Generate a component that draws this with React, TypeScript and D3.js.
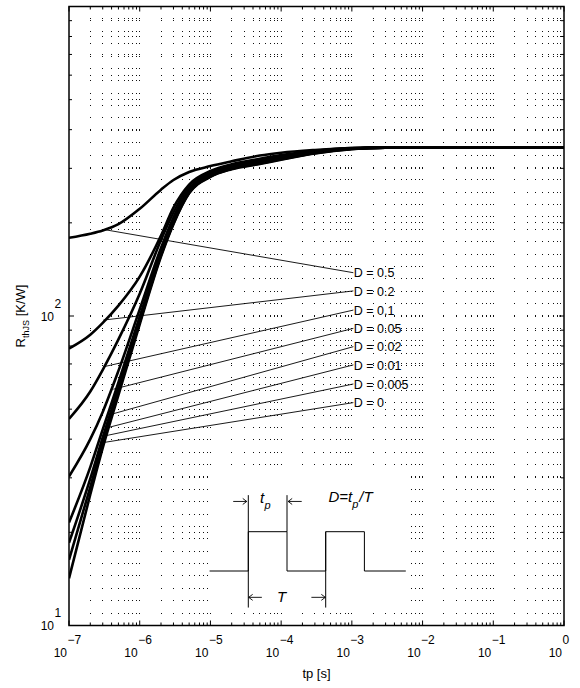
import React from 'react';
import * as d3 from 'd3';

// pulse time samples [s]
const tValues = [1e-7, 2e-7, 3e-7, 5e-7, 1e-6, 2e-6, 3e-6, 5e-6, 1e-5, 2e-5, 5e-5, 1e-4, 3e-4, 1e-3, 3e-3, 1e-2, 1e-1, 1];

// thermal impedance per duty cycle [K/W]
const zD05 = [179, 184.5, 189, 198, 222, 256, 275, 292, 305, 316, 330, 337, 344, 349, 350, 350, 350, 350];
const zD02 = [78.5, 87, 95, 108, 134, 182, 224, 266, 294, 309, 322, 331, 342, 349, 350, 350, 350, 350];
const zD01 = [46.5, 57, 67, 84, 118, 176, 216, 263, 291, 306, 319, 328.5, 340, 348, 350, 350, 350, 350];
const zD005 = [30.3, 40, 49, 66.5, 105, 166, 208, 257, 288, 303.5, 316, 326, 338.5, 348, 350, 350, 350, 350];
const zD002 = [21.5, 32.5, 43, 61, 99.5, 161, 203, 253, 285, 301, 313.5, 323.5, 337, 347, 350, 350, 350, 350];
const zD001 = [18.5, 29.8, 40.5, 58.5, 97, 158.5, 200.5, 251, 283.5, 300, 312, 322, 336.5, 347, 350, 350, 350, 350];
const zD0005 = [16.3, 28, 39, 57, 95.5, 157, 199, 250, 282.5, 299, 311, 321, 336, 346.5, 350, 350, 350, 350];
const zD0 = [14.2, 26.5, 37.5, 55.5, 94, 155.6, 198, 249, 281.5, 298, 310, 320, 335, 346, 350, 350, 350, 350];

const seriesList = [zD05, zD02, zD01, zD005, zD002, zD001, zD0005, zD0];
const labels = ['D = 0.5', 'D = 0.2', 'D = 0.1', 'D = 0.05', 'D = 0.02', 'D = 0.01', 'D = 0.005', 'D = 0'];

// leader lines: point on curve -> label
const anchorT = [3.23e-7, 3.05e-7, 3.05e-7, 4.24e-7, 3.8e-7, 3.41e-7, 3.23e-7, 3.05e-7];
const anchorV = [190, 97, 68.5, 58, 48, 43.5, 41, 39];
const labelT = 1.05e-3;
const labelV = [138, 120.5, 104.5, 91.2, 79.6, 69.5, 60.3, 52.5];

const xDecades = [-7, -6, -5, -4, -3, -2, -1, 0];
const yDecades = [1, 2, 3];
const yLabelDecades = [1, 2];

const W = 580;
const H = 688;
const left = 69;
const right = 564;
const top = 6.5;
const bottom = 625.5;
const font = '"Liberation Sans", Arial, Helvetica, sans-serif';

function logGrid(decades: number[]) {
  const out: { v: number; major: boolean }[] = [];
  decades.forEach((d, i) => {
    out.push({ v: Math.pow(10, d), major: true });
    if (i < decades.length - 1) {
      for (let m = 2; m <= 9; m++) out.push({ v: m * Math.pow(10, d), major: false });
    }
  });
  return out;
}

export default function App() {
  const x = d3.scaleLog().domain([1e-7, 1]).range([left, right]);
  const y = d3.scaleLog().domain([10, 1000]).range([bottom, top]);

  const xGrid = logGrid(xDecades);
  const yGrid = logGrid(yDecades);
  const xInner = xGrid.filter(g => g.v > 1e-7 && g.v < 1);
  const yInner = yGrid.filter(g => g.v > 10 && g.v < 1000);

  const line = d3.line<number>()
    .x((_, i) => x(tValues[i]))
    .y(d => y(d))
    .curve(d3.curveMonotoneX);

  // dotted grid: dots along the vertical lines at a regular pitch, plus rows on the log y lines
  const pitch = (bottom - top) / 50;
  const dots: [number, number][] = [];
  xInner.forEach(g => {
    const px = Math.floor(x(g.v));
    for (let k = 1; k < 50; k++) dots.push([px, Math.floor(bottom - k * pitch)]);
    yInner.forEach(h => dots.push([px, Math.floor(y(h.v))]));
  });

  // inset (duty cycle sketch), in units of tp and pulse level
  const ix = d3.scaleLinear().domain([0, 1]).range([248.3, 287]);
  const iy = d3.scaleLinear().domain([0, 1]).range([571, 531.7]);
  const pulse = d3.line<[number, number]>().x(d => ix(d[0])).y(d => iy(d[1]));
  const pulsePts: [number, number][] = [[-1, 0], [0, 0], [0, 1], [1, 1], [1, 0], [2, 0], [2, 1], [3, 1], [3, 0], [4.07, 0]];

  const arrow = (x1: number, x2: number, yy: number, key: string) => {
    const dir = x2 > x1 ? 1 : -1;
    return (
      <path key={key} d={`M${x1},${yy}H${x2}M${x2 - dir * 4},${yy - 3}L${x2},${yy}L${x2 - dir * 4},${yy + 3}`}
        fill="none" stroke="#000" strokeWidth={0.9} />
    );
  };

  return (
    <div style={{ position: 'absolute', left: 0, top: 0 }}>
      <svg width={W} height={H} style={{ display: 'block', background: '#fff' }} fontFamily={font}>
        <defs>
          <clipPath id="plot-clip">
            <rect x={left} y={top} width={right - left} height={bottom - top} />
          </clipPath>
        </defs>

        {/* grid */}
        <g fill="#111" shapeRendering="crispEdges">
          {dots.map((d, i) => <rect key={i} x={d[0]} y={d[1]} width={1} height={1} />)}
        </g>

        {/* inset background */}
        <rect x={208.5} y={471} width={201} height={141} fill="#fff" />

        {/* curves */}
        <g clipPath="url(#plot-clip)">
          {seriesList.map((s, i) => (
            <path key={labels[i]} d={line(s) || ''} fill="none" stroke="#000" strokeWidth={2.6} strokeLinejoin="round" />
          ))}
        </g>

        {/* leader lines and labels */}
        {labels.map((lab, i) => (
          <g key={lab}>
            <line x1={x(anchorT[i])} y1={y(anchorV[i])} x2={x(labelT)} y2={y(labelV[i])} stroke="#000" strokeWidth={0.9} />
            <text x={x(labelT) + 0.5} y={y(labelV[i]) + 4.6} fontSize={12.5}>{lab}</text>
          </g>
        ))}

        {/* inset */}
        <g>
          <path d={pulse(pulsePts) || ''} fill="none" stroke="#000" strokeWidth={1} />
          <line x1={ix(0)} x2={ix(0)} y1={iy(1.93)} y2={iy(-0.93)} stroke="#000" strokeWidth={1} />
          <line x1={ix(1)} x2={ix(1)} y1={iy(1.93)} y2={iy(1)} stroke="#000" strokeWidth={1} />
          <line x1={ix(2)} x2={ix(2)} y1={iy(1)} y2={iy(-0.93)} stroke="#000" strokeWidth={1} />
          {arrow(ix(-0.39), ix(-0.04), iy(1.77), 'a1')}
          {arrow(ix(1.38), ix(1.03), iy(1.77), 'a2')}
          {arrow(ix(0.35), ix(0.01), iy(-0.67), 'a3')}
          {arrow(ix(1.63), ix(1.99), iy(-0.67), 'a4')}
          <text x={ix(0.3)} y={503} fontSize={15} fontStyle="italic">t<tspan dx={0.5} dy={6} fontSize={11}>p</tspan></text>
          <text x={ix(2.07)} y={501.7} fontSize={15} fontStyle="italic">D=t<tspan dy={6.5} fontSize={11}>p</tspan><tspan dy={-6.5} dx={1}>/T</tspan></text>
          <text x={ix(0.86)} y={601.7} fontSize={15} fontStyle="italic" textAnchor="middle">T</text>
        </g>

        {/* axes box */}
        <rect x={left} y={top} width={right - left} height={bottom - top} fill="none" stroke="#000" strokeWidth={1.5} />

        {/* ticks */}
        <g stroke="#000" strokeWidth={1}>
          {xGrid.map((g, i) => {
            const px = x(g.v);
            const len = g.major ? 5 : 3;
            return (
              <g key={'xt' + i}>
                <line x1={px} x2={px} y1={bottom} y2={bottom - len} />
                <line x1={px} x2={px} y1={top} y2={top + len} />
              </g>
            );
          })}
          {yGrid.map((g, i) => {
            const py = y(g.v);
            const len = g.major ? 5 : 3;
            return (
              <g key={'yt' + i}>
                <line x1={left} x2={left + len} y1={py} y2={py} />
                <line x1={right} x2={right - len} y1={py} y2={py} />
              </g>
            );
          })}
        </g>

        {/* tick labels */}
        <g fontSize={12} fill="#000">
          {xDecades.map(d => {
            const px = x(Math.pow(10, d));
            const exp = d < 0 ? '\u2212' + Math.abs(d) : String(d);
            return (
              <g key={'xl' + d}>
                <text x={px - 2} y={656.7} textAnchor="end">10</text>
                <text x={px - 1.5} y={644} textAnchor="start">{exp}</text>
              </g>
            );
          })}
          {yLabelDecades.map(d => {
            const py = y(Math.pow(10, d));
            return (
              <g key={'yl' + d}>
                <text x={54} y={py + 4.5} textAnchor="end">10</text>
                <text x={54.5} y={py - 8.5} textAnchor="start">{d}</text>
              </g>
            );
          })}
        </g>

        {/* axis titles */}
        <text x={(left + right) / 2} y={678} fontSize={13} textAnchor="middle">tp [s]</text>
        <text transform={`translate(25,${(top + bottom) / 2}) rotate(-90)`} fontSize={13} textAnchor="middle">
          R<tspan dy={4} fontSize={9}>thJS</tspan><tspan dy={-4}> [K/W]</tspan>
        </text>
      </svg>
    </div>
  );
}
